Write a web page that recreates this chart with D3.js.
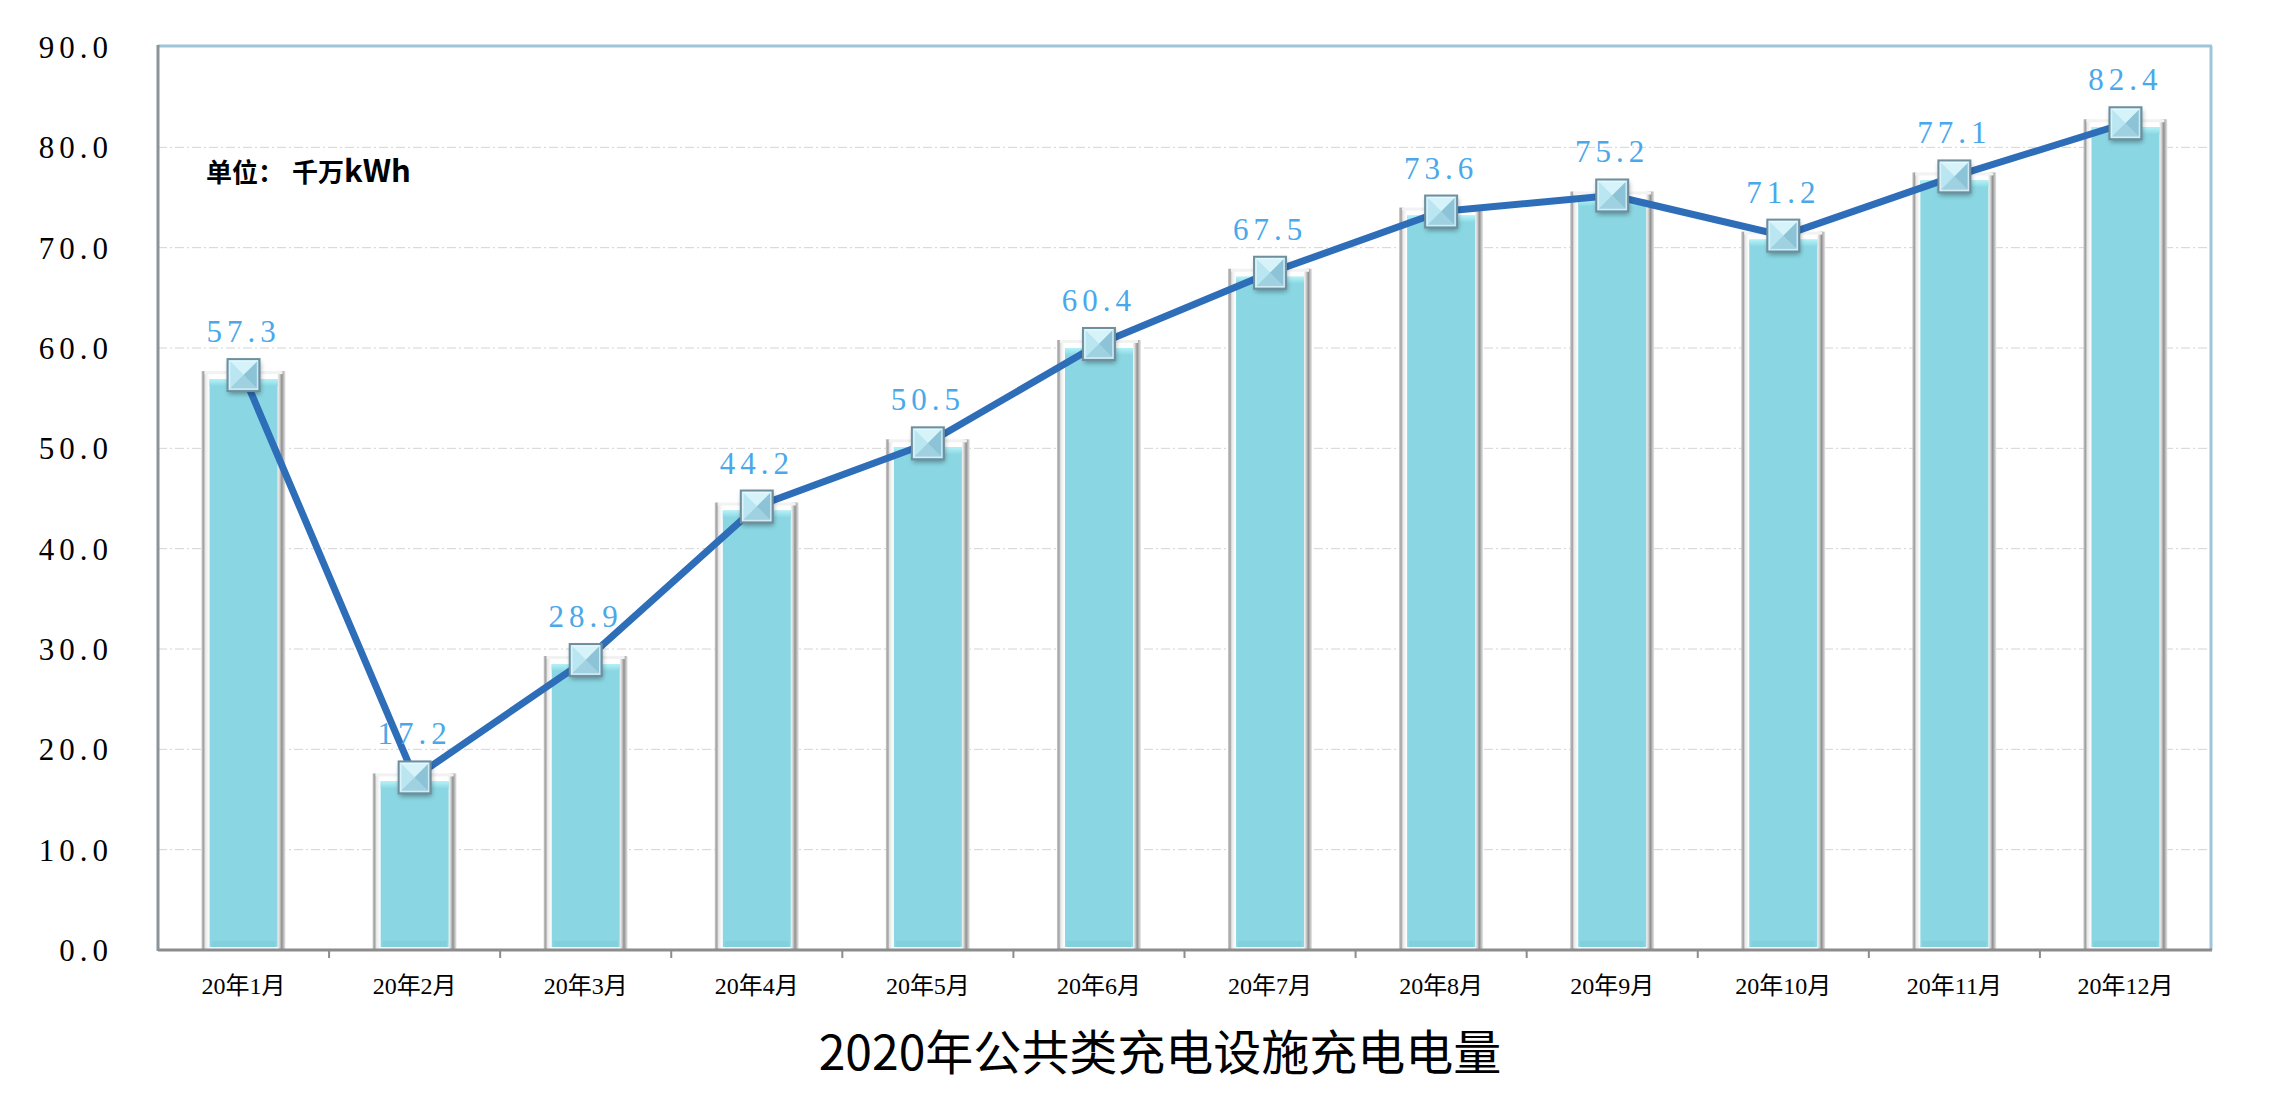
<!DOCTYPE html>
<html><head><meta charset="utf-8">
<script src="https://cdn.jsdelivr.net/npm/d3@7"></script>
<style>body{margin:0;background:#fff;} svg{display:block;}</style>
</head><body>
<svg id="c" width="2276" height="1098"></svg>
<script>
const categories = ["20年1月","20年2月","20年3月","20年4月","20年5月","20年6月","20年7月","20年8月","20年9月","20年10月","20年11月","20年12月"];
const values = [57.3,17.2,28.9,44.2,50.5,60.4,67.5,73.6,75.2,71.2,77.1,82.4];
const yTicks = [0,10,20,30,40,50,60,70,80,90];
const title = "2020年公共类充电设施充电电量";
const unitParts = ["单位：","千万","kWh"];

const svg = d3.select("#c");
const L=158, R=2211, T=47, B=950;
const x = d3.scaleBand().domain(categories).range([L,R]).padding(0);
const y = d3.scaleLinear().domain([0,90]).range([B,T]);

const defs = svg.append("defs");
const fg = defs.append("linearGradient").attr("id","frame").attr("x1","0").attr("x2","1").attr("y1","0").attr("y2","0");
[["0%","#c8c8c8"],["2.5%","#a0a0a0"],["4.5%","#e8e8e8"],["9%","#ffffff"],["90%","#ffffff"],["93%","#d0d0d0"],["95.5%","#909090"],["97.5%","#b8b8b8"],["100%","#ececec"]]
  .forEach(s=>fg.append("stop").attr("offset",s[0]).attr("stop-color",s[1]));
const cg = defs.append("linearGradient").attr("id","cyanTop").attr("x1","0").attr("x2","0").attr("y1","0").attr("y2","1");
[["0%","#b4f2f8"],["100%","#8ad7e3"]].forEach(s=>cg.append("stop").attr("offset",s[0]).attr("stop-color",s[1]));
const sh = defs.append("filter").attr("id","sh").attr("x","-30%").attr("y","-30%").attr("width","160%").attr("height","160%");
sh.append("feDropShadow").attr("dx",1).attr("dy",3).attr("stdDeviation",2.5).attr("flood-color","#000").attr("flood-opacity",0.35);

// grid
svg.append("g").selectAll("line").data(yTicks.filter(t=>t>0 && t<90)).join("line")
  .attr("x1",L).attr("x2",R).attr("y1",d=>y(d)).attr("y2",d=>y(d))
  .attr("stroke","#d4d4d4").attr("stroke-width",1).attr("stroke-dasharray","9,3,2,3");

// plot border
svg.append("line").attr("x1",L).attr("x2",R+1).attr("y1",T-1).attr("y2",T-1).attr("stroke","#9ec5d8").attr("stroke-width",3);
svg.append("line").attr("x1",R).attr("x2",R).attr("y1",T-1).attr("y2",B).attr("stroke","#9ec5d8").attr("stroke-width",3);

// bars
const bw = x.bandwidth();
const outerW = 84, innerW = 68;
const bars = svg.append("g").selectAll("g").data(values).join("g")
  .attr("transform",(d,i)=>`translate(${x(categories[i])+bw/2},0)`);
bars.append("rect").attr("x",-outerW/2).attr("width",outerW)
  .attr("y",d=>y(d)-4).attr("height",d=>B-(y(d)-4)).attr("fill","url(#frame)");
bars.append("rect").attr("x",-outerW/2+3).attr("width",outerW-6)
  .attr("y",d=>y(d)-4).attr("height",3).attr("fill","#f2f2f2");
bars.append("rect").attr("x",-innerW/2).attr("width",innerW)
  .attr("y",d=>y(d)+4).attr("height",d=>B-3-(y(d)+4)).attr("fill","#8ad7e3");
bars.append("rect").attr("x",-innerW/2).attr("width",innerW)
  .attr("y",d=>y(d)+4).attr("height",7).attr("fill","url(#cyanTop)");
bars.append("rect").attr("x",-innerW/2+2).attr("width",innerW-4)
  .attr("y",B-9).attr("height",6).attr("fill","#7ecbd8").attr("opacity",0.6);

// axes lines
svg.append("line").attr("x1",L).attr("x2",R+1).attr("y1",B).attr("y2",B).attr("stroke","#8c8c8c").attr("stroke-width",3);
svg.append("line").attr("x1",L).attr("x2",L).attr("y1",T-2).attr("y2",B+1).attr("stroke","#8c9497").attr("stroke-width",3);
svg.append("g").selectAll("line").data(categories.slice(1)).join("line")
  .attr("x1",d=>x(d)).attr("x2",d=>x(d)).attr("y1",B).attr("y2",B+8).attr("stroke","#8c8c8c").attr("stroke-width",2);

// y labels
svg.append("g").selectAll("text").data(yTicks).join("text")
  .attr("x",113).attr("y",d=>y(d)).attr("dy","0.35em").attr("text-anchor","end")
  .attr("font-family","'Liberation Serif',serif").attr("font-size",31)
  .attr("letter-spacing","5px").attr("fill","#000").text(d=>d.toFixed(1));

// x labels
svg.append("g").selectAll("text").data(categories).join("text")
  .attr("x",d=>x(d)+bw/2).attr("y",994).attr("text-anchor","middle")
  .attr("font-family","'Liberation Serif','Noto Sans CJK SC',serif").attr("font-size",24)
  .attr("fill","#000").text(d=>d);

// line
const line = d3.line().x((d,i)=>x(categories[i])+bw/2).y(d=>y(d));
svg.append("path").datum(values).attr("d",line).attr("fill","none")
  .attr("stroke","#2e6eb9").attr("stroke-width",7).attr("stroke-linejoin","round");

// markers
const s = 16;
const mk = svg.append("g").selectAll("g").data(values).join("g")
  .attr("transform",(d,i)=>`translate(${x(categories[i])+bw/2},${y(d)})`);
mk.append("rect").attr("x",-s).attr("y",-s).attr("width",2*s).attr("height",2*s)
  .attr("fill","#a7dbe9").attr("filter","url(#sh)");
const tri = [
  [[-s,-s],[s,-s],[0,0],"#d6f3fa"],
  [[-s,-s],[-s,s],[0,0],"#b9e6f1"],
  [[s,-s],[s,s],[0,0],"#8cc3d6"],
  [[-s,s],[s,s],[0,0],"#9fd1e0"]
];
tri.forEach(t=>{
  mk.append("path").attr("d",`M${t[0][0]},${t[0][1]}L${t[1][0]},${t[1][1]}L${t[2][0]},${t[2][1]}Z`).attr("fill",t[3]);
});
mk.append("rect").attr("x",-s+2).attr("y",-s+2).attr("width",2*s-4).attr("height",2*s-4)
  .attr("fill","none").attr("stroke","#eafaff").attr("stroke-width",1.5).attr("opacity",0.7);
mk.append("rect").attr("x",-s).attr("y",-s).attr("width",2*s).attr("height",2*s)
  .attr("fill","none").attr("stroke","#6f8f9e").attr("stroke-width",2);

// value labels
svg.append("g").selectAll("text").data(values).join("text")
  .attr("x",(d,i)=>x(categories[i])+bw/2).attr("y",d=>y(d)-33)
  .attr("text-anchor","middle")
  .attr("font-family","'Liberation Serif',serif").attr("font-size",31)
  .attr("letter-spacing","5px").attr("fill","#4aa8ea").text(d=>d.toFixed(1));

// unit
const ut = svg.append("text").attr("x",206).attr("y",182)
  .attr("font-family","'Noto Sans CJK SC',sans-serif").attr("font-weight","bold").attr("font-size",26)
  .attr("fill","#000");
ut.append("tspan").text(unitParts[0]);
ut.append("tspan").attr("dx",8).text(unitParts[1]);
ut.append("tspan").attr("font-size",31).text(unitParts[2]);

// title
svg.append("text").attr("x",1160).attr("y",1070).attr("text-anchor","middle")
  .attr("font-family","'Noto Sans CJK SC',sans-serif").attr("font-size",48)
  .attr("fill","#000").text(title);
</script>
</body></html>
